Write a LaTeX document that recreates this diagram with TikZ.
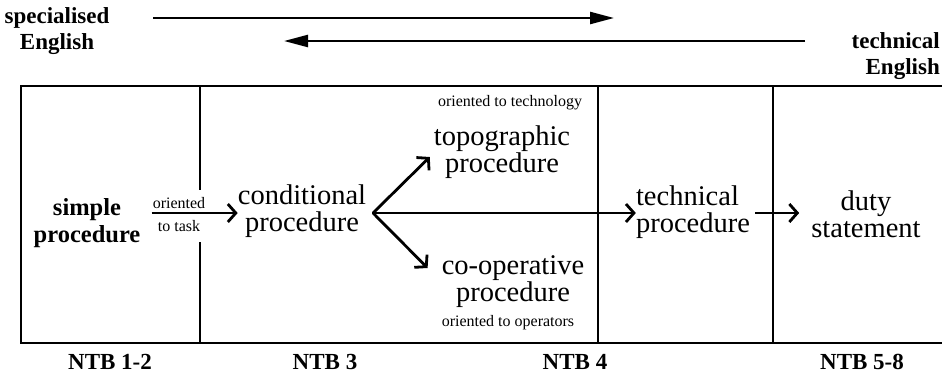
\documentclass[tikz,border=0pt]{standalone}
\usepackage{fontspec}
\setmainfont{Liberation Serif}
\usetikzlibrary{arrows.meta}
\begin{document}
\begin{tikzpicture}[x=1pt,y=-1pt,
  frame/.style={line width=2.8pt},
  big/.style={font=\fontsize{28.5}{27}\selectfont, align=center, inner sep=0pt},
  small/.style={font=\fontsize{16}{17}\selectfont, inner sep=0pt},
  lbl/.style={font=\fontsize{23}{26}\selectfont\bfseries, align=center, inner sep=0pt},
  barb/.style={line width=2.8pt, -{Straight Barb[length=8pt,width=18pt]}},
  longarrow/.style={line width=2.4pt, -{Triangle[length=24pt,width=12pt]}}]
\useasboundingbox (0,0) rectangle (942,383);

% top labels and the two opposing arrows
\node[lbl] (spec) at (57,31) {specialised\\English};
\node[lbl, align=right, anchor=east] (techE) at (940,56) {technical\\English};
\coordinate (a1s) at (153,18);
\coordinate (a1e) at (614,18);
\coordinate (a2s) at (805,41);
\coordinate (a2e) at (284,41);
\draw[longarrow] (a1s) -- (a1e);
\draw[longarrow] (a2s) -- (a2e);

% frame and column dividers
\draw[frame] (942,86) -- (21,86) -- (21,343) -- (942,343);
\draw[frame] (200,86) -- (200,190);
\draw[frame] (200,242) -- (200,343);
\draw[frame] (598,86) -- (598,343);
\draw[frame] (773,86) -- (773,343);

% procedures
\node[lbl, font=\fontsize{24.5}{27}\selectfont\bfseries, inner xsep=11pt] (simple) at (87,223) {simple\\procedure};
\node[big] (cond) at (302,211) {conditional\\procedure};
\node[big] (topo) at (502,152) {topographic\\procedure};
\node[big] (coop) at (513,282) {co-operative\\procedure};
\node[big, align=left] (tech) at (693,212) {technical\\procedure};
\node[big, inner xsep=12pt] (duty) at (866,214) {duty\\statement};

\node[small] (otask1) at (179,203) {oriented};
\node[small] (otask2) at (179,226) {to task};
\node[small] (otech) at (510,103) {oriented to technology};
\node[small] (oop) at (508,323) {oriented to operators};

% connectors
\coordinate (br) at (373,213);
\draw[barb] (simple.east |- br) -- (cond.west |- br);
\draw[barb, line cap=round] (br) -- ([shift={(-4,5)}]topo.west);
\draw[barb, line cap=round] (br) -- ([shift={(-14,-14)}]coop.west);
\draw[barb] (br) -- (tech.west |- br);
\draw[barb] ([xshift=5pt]tech.east |- br) -- (duty.west |- br);

% grade labels
\node[lbl] (n12) at (110,362) {NTB 1-2};
\node[lbl] (n3) at (325,362) {NTB 3};
\node[lbl] (n4) at (575,362) {NTB 4};
\node[lbl] (n58) at (862,362) {NTB 5-8};
\end{tikzpicture}
\end{document}
